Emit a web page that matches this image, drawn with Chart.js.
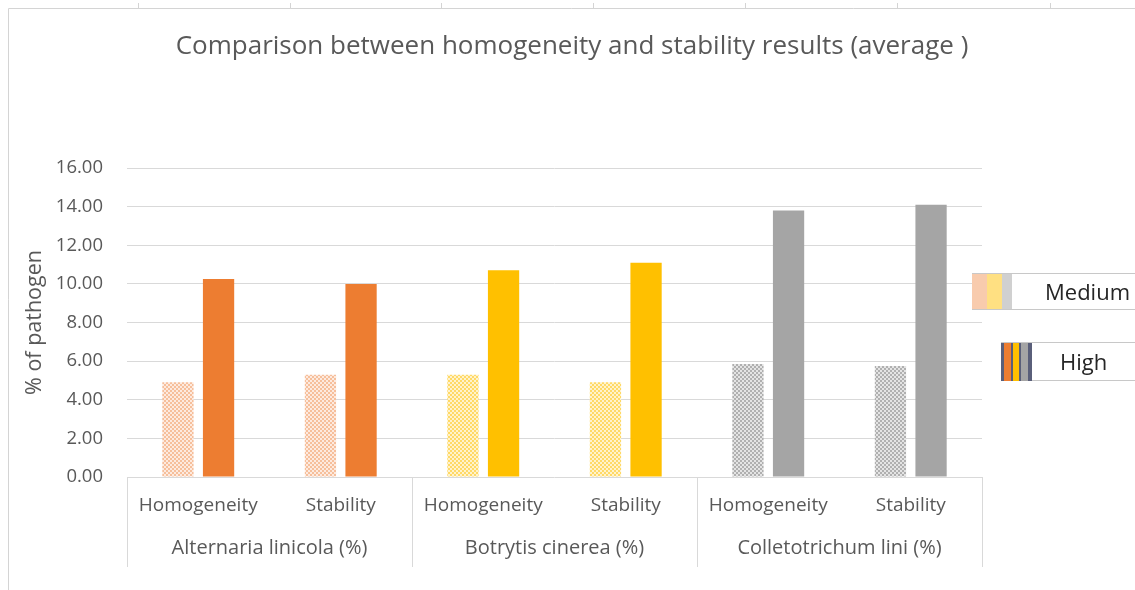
<!DOCTYPE html>
<html>
<head>
<meta charset="utf-8">
<script src="https://cdn.jsdelivr.net/npm/chart.js@4.4.1/dist/chart.umd.min.js"></script>
<style>
  html, body { margin: 0; padding: 0; background: #fff; }
  #wrap { width: 1135px; height: 590px; }
</style>
</head>
<body>
<div id="wrap"><canvas id="chart" width="1135" height="590"></canvas></div>
<script>
// ---- data ----
const chartTitle = 'Comparison between homogeneity and stability results (average )';
const subLabels = ['Homogeneity', 'Stability', 'Homogeneity', 'Stability', 'Homogeneity', 'Stability'];
const groupLabels = ['Alternaria linicola (%)', 'Botrytis cinerea (%)', 'Colletotrichum lini (%)'];
const mediumValues = [4.9, 5.3, 5.3, 4.9, 5.85, 5.75];
const highValues = [10.25, 10.0, 10.7, 11.1, 13.8, 14.1];
const yTicks = [0, 2, 4, 6, 8, 10, 12, 14, 16];

const TEXT = '#595959';
const GRID = '#d9d9d9';
const FONT = "'Open Sans', Lato, sans-serif";

// dotted fill used by the "Medium" bars
function dotPattern(light, dot) {
  const c = document.createElement('canvas');
  c.width = 4; c.height = 4;
  const g = c.getContext('2d');
  g.fillStyle = light;
  g.fillRect(0, 0, 4, 4);
  g.fillStyle = dot;
  g.fillRect(0, 0, 2, 2);
  g.fillRect(2, 2, 2, 2);
  return g.createPattern(c, 'repeat');
}
const pPeach = dotPattern('#fdeadf', '#f6bf9b');
const pYellow = dotPattern('#fff3cc', '#ffd966');
const pGrey = dotPattern('#e4e4e4', '#b0b0b0');

const mediumFill = [pPeach, pPeach, pYellow, pYellow, pGrey, pGrey];
const highFill = ['#ed7d31', '#ed7d31', '#ffc000', '#ffc000', '#a5a5a5', '#a5a5a5'];

// sheet frame, title, group separators and the side key
const decor = {
  id: 'decor',
  beforeDraw(chart) {
    const ctx = chart.ctx;
    ctx.save();
    ctx.strokeStyle = '#d4d4d4';
    ctx.lineWidth = 1;
    ctx.beginPath();
    ctx.moveTo(8.5, 590); ctx.lineTo(8.5, 8.5); ctx.lineTo(1135, 8.5);
    [138, 290, 441, 593, 745, 897, 1050].forEach(x => {
      ctx.moveTo(x + 0.5, 8.5); ctx.lineTo(x + 0.5, 3);
    });
    ctx.stroke();

    ctx.fillStyle = TEXT;
    ctx.font = "26px " + FONT;
    ctx.textAlign = 'center';
    ctx.textBaseline = 'middle';
    ctx.fillText(chartTitle, 572, 47);
    ctx.restore();
  },
  afterDraw(chart) {
    const ctx = chart.ctx;
    const area = chart.chartArea;
    const x2 = chart.scales.x2;
    const step = (area.right - area.left) / groupLabels.length;
    ctx.save();
    ctx.strokeStyle = GRID;
    ctx.lineWidth = 1;
    ctx.beginPath();
    for (let i = 0; i <= groupLabels.length; i++) {
      const x = Math.round(x2.getPixelForValue(0) - step / 2 + i * step) + 0.5;
      ctx.moveTo(x, area.bottom); ctx.lineTo(x, 567);
    }
    ctx.stroke();

    // Medium key
    ctx.strokeStyle = '#c8c8c8';
    ctx.beginPath();
    ctx.moveTo(972, 273.5); ctx.lineTo(1135, 273.5);
    ctx.moveTo(972, 309.5); ctx.lineTo(1135, 309.5);
    ctx.stroke();
    ctx.fillStyle = '#f8cbad'; ctx.fillRect(972, 274, 15, 35);
    ctx.fillStyle = '#ffe082'; ctx.fillRect(987, 274, 15, 35);
    ctx.fillStyle = '#d0d0d0'; ctx.fillRect(1002, 274, 10, 35);

    // High key
    ctx.beginPath();
    ctx.moveTo(1001, 342.5); ctx.lineTo(1135, 342.5);
    ctx.moveTo(1001, 380.5); ctx.lineTo(1135, 380.5);
    ctx.stroke();
    ctx.fillStyle = '#5a5f7a'; ctx.fillRect(1001, 343, 31, 38);
    ctx.fillStyle = '#ed7d31'; ctx.fillRect(1004, 343, 7, 38);
    ctx.fillStyle = '#ffc000'; ctx.fillRect(1013, 343, 6, 38);
    ctx.fillStyle = '#a5a5a5'; ctx.fillRect(1021, 343, 7, 38);

    ctx.fillStyle = '#262626';
    ctx.font = "22px " + FONT;
    ctx.textBaseline = 'middle';
    ctx.textAlign = 'left';
    ctx.fillText('Medium', 1045, 294);
    ctx.fillText('High', 1060, 364);
    ctx.restore();
  }
};

new Chart(document.getElementById('chart'), {
  type: 'bar',
  data: {
    labels: subLabels,
    datasets: [
      { label: 'Medium', data: mediumValues, backgroundColor: mediumFill, borderWidth: 0 },
      { label: 'High', data: highValues, backgroundColor: highFill, borderWidth: 0 }
    ]
  },
  plugins: [decor],
  options: {
    responsive: false, animation: false,
    layout: { padding: { top: 168, left: 20, right: 153, bottom: 18 } },
    datasets: { bar: { categoryPercentage: 0.57, barPercentage: 0.77 } },
    scales: {
      x: {
        grid: { display: false, drawTicks: false }, border: { display: false },
        ticks: { color: TEXT, font: { family: FONT, size: 19 }, padding: 17, maxRotation: 0 },
        afterFit: s => { s.height = 50; }
      },
      x2: {
        type: 'category', labels: groupLabels, position: 'bottom', offset: true,
        grid: { display: false, drawTicks: false }, border: { display: false },
        ticks: { color: TEXT, font: { family: FONT, size: 20 }, padding: 9, maxRotation: 0 },
        afterFit: s => { s.height = 45; }
      },
      y: {
        min: 0, max: 16,
        afterBuildTicks: s => { s.ticks = yTicks.map(v => ({ value: v })); },
        grid: { color: GRID, drawTicks: false }, border: { display: false },
        ticks: { color: TEXT, font: { family: FONT, size: 18.5 }, padding: 24, callback: v => v.toFixed(2) },
        title: { display: true, text: '% of pathogen', color: TEXT, font: { family: FONT, size: 21.5 }, padding: { top: 2, bottom: 0 } },
        afterFit: s => { s.width = 107; }
      }
    },
    plugins: {
      legend: { display: false },
      tooltip: { enabled: false },
      title: { display: false }
    }
  }
});
</script>
</body>
</html>
